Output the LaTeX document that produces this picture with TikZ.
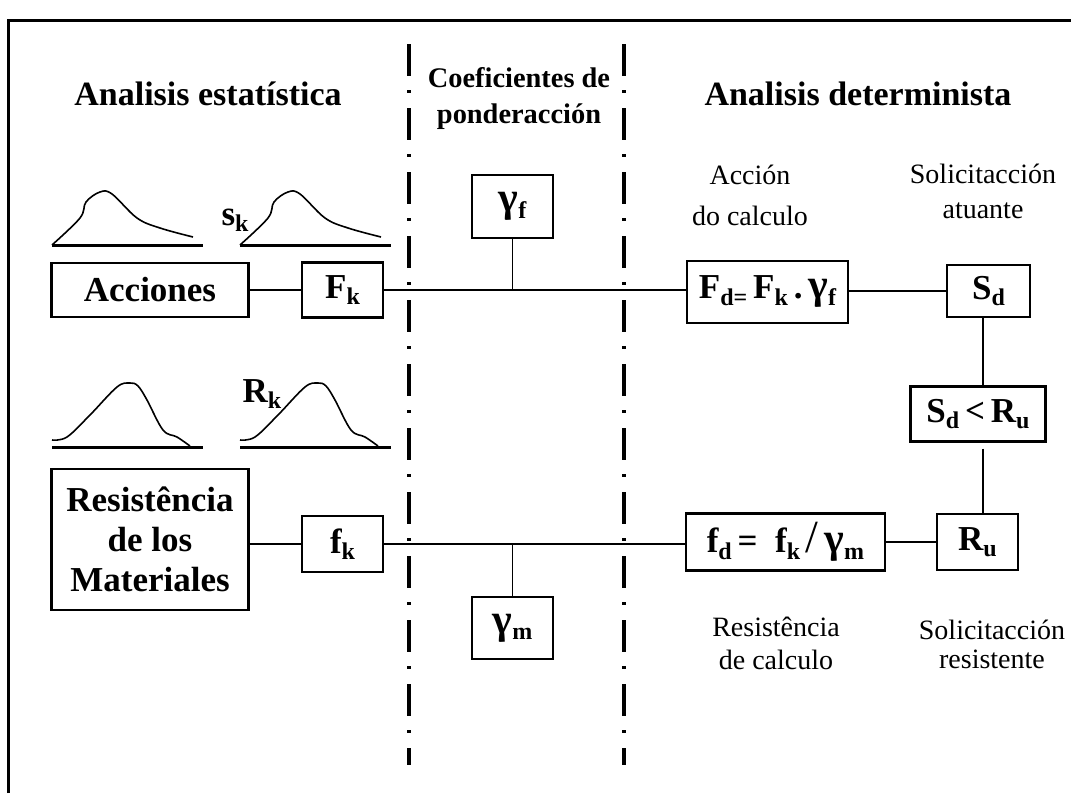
\documentclass[tikz,border=0pt]{standalone}
\usepackage{fontspec}
\setmainfont{Liberation Serif}
\usetikzlibrary{positioning}
\newcommand{\sbs}[1]{\raisebox{-0.4ex}{\fontsize{12}{12}\selectfont #1}}
\newcommand{\gam}{{\fontsize{21}{21}\selectfont γ}}
\newcommand{\slsh}{{\fontsize{23}{23}\selectfont\mdseries /}}

\begin{document}
\begin{tikzpicture}[x=0.5pt, y=-0.5pt,
    box/.style={draw, line width=1.1pt, inner sep=0pt, font=\fontsize{17.5}{20}\selectfont\bfseries},
    sym/.style={inner sep=0pt, font=\fontsize{17.5}{20}\selectfont\bfseries},
    heading/.style={anchor=base, font=\fontsize{17}{20}\selectfont\bfseries},
    note/.style={align=center, font=\fontsize{14}{20.5}\selectfont},
    link/.style={line width=1.2pt},
    thin link/.style={line width=0.8pt},
    divider/.style={line width=1.65pt, dash pattern=on 16pt off 7pt on 1.5pt off 7.5pt},
    density/.style={line width=0.8pt},
    ground/.style={line width=1.5pt}]

    \useasboundingbox (0,0) rectangle (1071,793);

    % Cornice
    \draw[line width=1.5pt] (8,793) -- (8,20) -- (1071,20);

    % Linee tratto-punto
    \draw[divider] (409,44) -- (409,765);
    \draw[divider] (624,44) -- (624,765);

    % Titoli
    \node[heading] (stat) at (208,105) {Analisis estatística};
    \node[heading] (det) at (858,105) {Analisis determinista};
    \node[align=center, font=\fontsize{14.2}{18}\selectfont\bfseries] (coef) at (519,99) {Coeficientes de\\ponderacción};

    % Curve
    \foreach \dx in {0,188} {
        \begin{scope}[shift={(\dx,0)}]
            \draw[density] plot[smooth, tension=0.6] coordinates {(52,245) (80,218) (86,202) (100,192) (112,194) (137,218) (160,228) (193,237)};
            \draw[ground] (52,245.5) -- (203,245.5);
            \draw[density] plot[smooth, tension=0.6] coordinates {(52,440) (67,437) (90,415) (117,387) (130,383) (138,386) (147,400) (163,430) (177,437) (190,446)};
            \draw[ground] (52,447) -- (203,447);
        \end{scope}
    }
    \node[sym] (sk) at (235,220) {s\sbs{k}};
    \node[sym] (Rk) at (262,394) {R\sbs{k}};

    % Blocchi
    \node[box, minimum width=98.5, minimum height=27] (acc) at (150,290) {Acciones};
    \node[box, minimum width=40.5, minimum height=27.5] (Fk) at (342.5,290) {F\sbs{k}};
    \node[box, minimum width=40.5, minimum height=31.5] (gf) at (512.5,206.5) {\gam\sbs{f}};
    \node[box, minimum width=80.5, minimum height=31] (Fd) at (767.5,292) {F\sbs{d=}\,F\sbs{k}\,.\,\gam\sbs{f}};
    \node[box, minimum width=41.5, minimum height=26] (Sd) at (988.5,291) {S\sbs{d}};
    \node[box, minimum width=67.5, minimum height=27.5] (cmp) at (978,414) {S\sbs{d}\,<\,R\sbs{u}};
    \node[box, minimum width=40.5, minimum height=28] (Ru) at (977.5,542) {R\sbs{u}};
    \node[box, minimum width=99.5, minimum height=28.5] (fd) at (785.5,542) {f\sbs{d}\,=\enspace f\sbs{k}\,\slsh\,\gam\sbs{m}};
    \node[box, minimum width=40.5, minimum height=28] (fk) at (342.5,544) {f\sbs{k}};
    \node[box, line width=1.4pt, align=center, minimum width=98.5, minimum height=70.5] (res) at (150,539.5) {Resistência\\de los\\Materiales};
    \node[box, minimum width=40.5, minimum height=31] (gm) at (512.5,628) {\gam\sbs{m}};

    % Didascalie
    \node[note] (acd) at (750,195) {Acción\\do calculo};
    \node[note, font=\fontsize{14}{17.5}\selectfont] (sat) at (983,191) {Solicitacción\\atuante};
    \node[note, font=\fontsize{14}{16.5}\selectfont] (rdc) at (776,643) {Resistência\\de calculo};
    \node[note, font=\fontsize{14}{14.5}\selectfont] (sre) at (992,644) {Solicitacción\\resistente};

    % Collegamenti
    \draw[link] (acc) -- (Fk);
    \draw[thin link] (Fk.east) -- (Fd.west |- Fk.east);
    \draw[link] (Fd.east |- Sd.west) -- (Sd.west);
    \coordinate (jf) at (gf.south |- Fk.east);
    \draw[thin link] (gf.south) -- (jf);
    \draw[link] (res.east |- fk.west) -- (fk.west);
    \draw[thin link] (fk.east) -- (fd.west |- fk.east);
    \coordinate (jm) at (gm.north |- fk.east);
    \draw[thin link] (gm.north) -- (jm);
    \draw[link] (fd) -- (Ru);
    \coordinate (axis) at (983,0);
    \draw[thin link] (Sd.south -| axis) -- (cmp.north -| axis);
    \draw[thin link, shorten <=3pt] (cmp.south -| axis) -- (Ru.north -| axis);
\end{tikzpicture}
\end{document}
